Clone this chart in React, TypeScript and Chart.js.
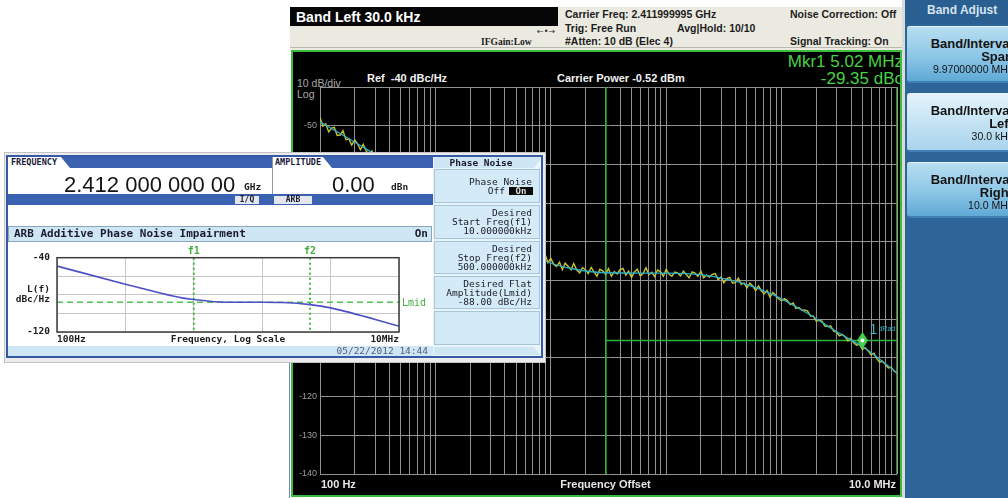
import React, { useEffect, useRef } from 'react';
import { Chart, registerables } from 'chart.js';

Chart.register(...registerables);

// ---------------- data ----------------
const SANS = '"Liberation Sans", Arial, sans-serif';
const MONO = '"DejaVu Sans Mono", monospace';

// Analyzer (main) chart
const X_MIN_HZ = 100;
const X_MAX_HZ = 10000000;
const Y_MIN_DB = -140;
const Y_MAX_DB = -40;
const Y_STEP_DB = 10;
const DECADES = [100, 1000, 10000, 100000, 1000000];
const GRID_MULTS = [1, 2, 3, 4, 5, 6, 7, 8, 9];
const SAMPLE_STEPS = [
  1, 1.06, 1.12, 1.19, 1.26, 1.33, 1.41, 1.5, 1.58, 1.68, 1.78, 1.88, 2, 2.11, 2.24, 2.37, 2.51, 2.66, 2.82, 2.99,
  3.16, 3.35, 3.55, 3.76, 3.98, 4.22, 4.47, 4.73, 5.01, 5.31, 5.62, 5.96, 6.31, 6.68, 7.08, 7.5, 7.94, 8.41, 8.91, 9.44,
];
// measured (noisy, yellow) trace in dBc/Hz, one value per sample frequency (40 per decade + end point)
const TRACE_DB = [
  // 100 Hz decade
  -47.9, -50.1, -49.5, -51.6, -50.6, -50.4, -52.5, -52.4, -51.3, -53.6, -53.4, -55.0, -53.7, -54.6, -56.2, -54.8, -56.5, -57.4, -56.5, -58.7,
  -57.2, -58.3, -59.5, -58.2, -60.2, -61.3, -60.2, -61.1, -62.4, -61.2, -62.7, -64.2, -62.7, -63.5, -64.8, -63.7, -66.1, -65.4, -66.4, -65.8,
  // 1 kHz decade
  -67.2, -66.2, -68.4, -68.3, -69.8, -68.6, -69.4, -71.1, -69.6, -71.4, -72.2, -71.4, -73.5, -72.1, -73.1, -74.4, -73.0, -75.1, -76.1, -75.1,
  -75.9, -77.3, -76.0, -77.6, -79.0, -77.6, -78.3, -79.7, -78.5, -81.0, -80.2, -81.3, -80.6, -80.8, -82.9, -82.4, -84.4, -83.5, -83.2, -85.4,
  // 10 kHz decade
  -84.3, -85.8, -86.4, -85.3, -87.2, -85.5, -86.3, -87.2, -85.6, -87.3, -88.0, -86.7, -87.2, -88.2, -86.6, -87.8, -88.9, -87.1, -87.5, -88.4,
  -86.9, -88.9, -87.7, -88.3, -87.2, -86.9, -88.6, -87.6, -89.2, -87.8, -87.1, -88.8, -88.2, -86.7, -88.5, -87.9, -89.0, -87.3, -87.7, -88.9,
  // 100 kHz decade
  -87.1, -88.4, -88.9, -87.8, -88.1, -88.8, -87.6, -88.5, -89.3, -87.8, -88.1, -88.9, -87.6, -89.3, -88.6, -89.1, -88.4, -88.2, -89.8, -89.1,
  -90.6, -89.5, -89.2, -90.7, -90.5, -89.4, -91.0, -90.7, -91.9, -90.7, -91.4, -92.6, -91.4, -92.7, -93.4, -92.6, -94.3, -93.1, -93.8, -94.8,
  // 1 MHz decade
  -95.2, -94.7, -95.2, -96.2, -95.8, -97.2, -97.0, -97.7, -97.6, -97.9, -99.2, -99.2, -100.5, -100.3, -100.5, -101.8, -101.9, -101.7, -103.1, -103.3,
  -104.3, -103.9, -104.5, -105.6, -105.0, -106.1, -106.7, -106.5, -107.8, -107.4, -108.2, -109.2, -108.8, -110.2, -111.1, -110.9, -111.7, -112.6, -112.4, -113.4,
  // 10 MHz
  -113.9,
];
// smoothed (cyan) trace
const SMOOTH_FREQ = [100, 250, 1000, 3000, 8500, 15000, 30000, 100000, 200000, 300000, 450000, 850000, 1660000, 3220000, 5100000, 10000000];
const SMOOTH_DB = [-49, -56, -67.2, -76.2, -84.7, -86.9, -88, -88.1, -88.5, -89.4, -90.6, -93.7, -98.4, -103.8, -107.2, -113.9];
const BAND_LEFT_HZ = 30000;
const BAND_RIGHT_HZ = 10000000;
const BAND_LEVEL_DB = -105.5;
const MARKER_HZ = 5020000;
const MAIN_X_LABELS = ['100 Hz', 'Frequency Offset', '10.0 MHz'];

// Signal generator (inset) chart
const INSET_Y_MIN = -120;
const INSET_Y_MAX = -40;
const INSET_DECADES = [100, 1000, 10000, 100000, 1000000, 10000000];
const INSET_X_LABELS = ['100Hz', '', '', '', '', '10MHz'];
const INSET_FREQ = [100, 1000, 3000, 7000, 10000, 20000, 50000, 100000, 200000, 500000, 1000000, 10000000];
const INSET_DB = [-49, -68.5, -77.5, -83.5, -85, -87.4, -88, -88, -88.3, -90.5, -94, -113.6];
const F1_HZ = 10000;
const F2_HZ = 500000;
const LMID_DB = -88;

// derived tables
const TRACE_FREQ = DECADES.flatMap((d) => SAMPLE_STEPS.map((m) => d * m)).concat([X_MAX_HZ]);
const GRID_FREQS = DECADES.flatMap((d) => GRID_MULTS.map((m) => d * m)).concat([X_MAX_HZ]);

// ---------------- helpers ----------------
type TxtProps = {
  x: number;
  y: number;
  s: string;
  size: number;
  color?: string;
  bold?: boolean;
  font?: string;
  align?: 'left' | 'right' | 'center';
  extra?: React.CSSProperties;
};

function Txt({ x, y, s, size, color = '#111', bold = false, font = SANS, align = 'left', extra }: TxtProps) {
  const h = Math.round(size * 1.3);
  const st: React.CSSProperties = {
    position: 'absolute',
    top: y - h / 2,
    height: h,
    lineHeight: `${h}px`,
    fontSize: size,
    fontFamily: font,
    fontWeight: bold ? 700 : 400,
    color,
    whiteSpace: 'pre',
    ...extra,
  };
  if (align === 'left') {
    st.left = x;
  } else if (align === 'right') {
    st.left = x - 500;
    st.width = 500;
    st.textAlign = 'right';
  } else {
    st.left = x - 250;
    st.width = 500;
    st.textAlign = 'center';
  }
  return <div style={st}>{s}</div>;
}

function Box({ l, t, w, h, style }: { l: number; t: number; w: number; h: number; style?: React.CSSProperties }) {
  return <div style={{ position: 'absolute', left: l, top: t, width: w, height: h, boxSizing: 'border-box', ...style }} />;
}

function makeMarkerImage(): HTMLCanvasElement {
  const c = document.createElement('canvas');
  c.width = 11;
  c.height = 17;
  const g = c.getContext('2d')!;
  g.fillStyle = '#41d04a';
  g.beginPath();
  g.moveTo(5.5, 0);
  g.lineTo(11, 8.5);
  g.lineTo(5.5, 17);
  g.lineTo(0, 8.5);
  g.closePath();
  g.fill();
  g.fillStyle = '#ffffff';
  g.beginPath();
  g.arc(5.5, 8.5, 2, 0, Math.PI * 2);
  g.fill();
  return c;
}

// ---------------- main analyzer chart ----------------
function MainChart() {
  const ref = useRef<HTMLCanvasElement>(null);
  useEffect(() => {
    const marker = makeMarkerImage();
    const green = '#2fb43a';
    const chart = new Chart(ref.current!, {
      type: 'line',
      data: {
        datasets: [
          {
            label: 'marker',
            data: [{ x: MARKER_HZ, y: BAND_LEVEL_DB }],
            pointStyle: marker as any,
            pointRadius: 8,
            showLine: false,
            order: 0,
          },
          {
            label: 'smoothed',
            data: SMOOTH_FREQ.map((f, i) => ({ x: f, y: SMOOTH_DB[i] })),
            borderColor: '#2aaec8',
            borderWidth: 1.3,
            pointRadius: 0,
            cubicInterpolationMode: 'monotone',
            order: 1,
          },
          {
            label: 'trace',
            data: TRACE_FREQ.map((f, i) => ({ x: f, y: TRACE_DB[i] })),
            borderColor: '#c9c232',
            borderWidth: 1.4,
            pointRadius: 0,
            order: 2,
          },
          {
            label: 'band left',
            data: [{ x: BAND_LEFT_HZ, y: Y_MAX_DB }, { x: BAND_LEFT_HZ, y: Y_MIN_DB }],
            borderColor: green,
            borderWidth: 1.6,
            pointRadius: 0,
            order: 3,
          },
          {
            label: 'band right',
            data: [{ x: BAND_RIGHT_HZ, y: Y_MAX_DB }, { x: BAND_RIGHT_HZ, y: Y_MIN_DB }],
            borderColor: green,
            borderWidth: 1.6,
            pointRadius: 0,
            order: 3,
          },
          {
            label: 'band level',
            data: [{ x: BAND_LEFT_HZ, y: BAND_LEVEL_DB }, { x: BAND_RIGHT_HZ, y: BAND_LEVEL_DB }],
            borderColor: green,
            borderWidth: 1.3,
            pointRadius: 0,
            order: 3,
          },
        ],
      },
      options: {
        animation: false,
        responsive: false,
        devicePixelRatio: 1,
        events: [],
        layout: { autoPadding: false, padding: { left: 0, right: 3, top: 34, bottom: 21 } },
        plugins: { legend: { display: false }, tooltip: { enabled: false }, title: { display: false } },
        scales: {
          x: {
            type: 'logarithmic',
            min: X_MIN_HZ,
            max: X_MAX_HZ,
            afterBuildTicks: (s: any) => {
              s.ticks = GRID_FREQS.map((v) => ({ value: v }));
            },
            afterFit: (s: any) => {
              s.height = 0;
            },
            ticks: { display: false, autoSkip: false },
            grid: { color: '#929292', lineWidth: 1, drawTicks: false },
            border: { display: false },
          },
          y: {
            type: 'linear',
            min: Y_MIN_DB,
            max: Y_MAX_DB,
            afterFit: (s: any) => {
              s.width = 27;
            },
            ticks: {
              stepSize: Y_STEP_DB,
              padding: 3,
              color: '#9e9e9e',
              font: { family: SANS, size: 9 },
              callback: (v: any) => (v === Y_MAX_DB ? '' : String(v)),
            },
            grid: { color: '#929292', lineWidth: 1, drawTicks: false },
            border: { display: false },
          },
        },
      },
      plugins: [
        {
          id: 'mainDecor',
          afterDraw(c: any) {
            const { ctx, chartArea: a, scales } = c;
            ctx.save();
            ctx.font = `bold 11px ${SANS}`;
            ctx.fillStyle = '#e6e6e6';
            ctx.textBaseline = 'middle';
            const y = a.bottom + 11;
            ctx.textAlign = 'left';
            ctx.fillText(MAIN_X_LABELS[0], a.left + 1, y);
            ctx.textAlign = 'center';
            ctx.fillText(MAIN_X_LABELS[1], (a.left + a.right) / 2 - 3, y);
            ctx.textAlign = 'right';
            ctx.fillText(MAIN_X_LABELS[2], a.right - 1, y);
            const mx = scales.x.getPixelForValue(MARKER_HZ);
            const my = scales.y.getPixelForValue(BAND_LEVEL_DB);
            ctx.fillStyle = '#2fb8c8';
            ctx.textAlign = 'left';
            ctx.font = `14px ${SANS}`;
            ctx.fillText('1', mx + 7, my - 10);
            ctx.font = `7px ${SANS}`;
            ctx.fillText('dRad', mx + 16, my - 11);
            ctx.restore();
          },
        },
      ],
    } as any);
    return () => chart.destroy();
  }, []);
  return (
    <canvas
      ref={ref}
      width={607}
      height={442}
      style={{ position: 'absolute', left: 293, top: 53, width: 607, height: 442 }}
    />
  );
}

// ---------------- inset (signal generator) chart ----------------
function InsetChart() {
  const ref = useRef<HTMLCanvasElement>(null);
  useEffect(() => {
    const green = '#45b845';
    const chart = new Chart(ref.current!, {
      type: 'line',
      data: {
        datasets: [
          {
            label: 'L(f)',
            data: INSET_FREQ.map((f, i) => ({ x: f, y: INSET_DB[i] })),
            borderColor: '#4c50c4',
            borderWidth: 1.6,
            pointRadius: 0,
            cubicInterpolationMode: 'monotone',
            order: 0,
          },
          {
            label: 'f1',
            data: [{ x: F1_HZ, y: INSET_Y_MAX }, { x: F1_HZ, y: INSET_Y_MIN }],
            borderColor: green,
            borderWidth: 2,
            borderDash: [2, 3],
            pointRadius: 0,
            order: 1,
          },
          {
            label: 'f2',
            data: [{ x: F2_HZ, y: INSET_Y_MAX }, { x: F2_HZ, y: INSET_Y_MIN }],
            borderColor: green,
            borderWidth: 2,
            borderDash: [2, 3],
            pointRadius: 0,
            order: 1,
          },
          {
            label: 'Lmid',
            data: [{ x: INSET_DECADES[0], y: LMID_DB }, { x: INSET_DECADES[INSET_DECADES.length - 1], y: LMID_DB }],
            borderColor: '#52c052',
            borderWidth: 1.5,
            borderDash: [6, 4],
            pointRadius: 0,
            order: 2,
          },
        ],
      },
      options: {
        animation: false,
        responsive: false,
        devicePixelRatio: 1,
        events: [],
        layout: { autoPadding: false, padding: { left: 0, right: 33, top: 12, bottom: 0 } },
        plugins: { legend: { display: false }, tooltip: { enabled: false }, title: { display: false } },
        scales: {
          x: {
            type: 'logarithmic',
            min: INSET_DECADES[0],
            max: INSET_DECADES[INSET_DECADES.length - 1],
            afterBuildTicks: (s: any) => {
              s.ticks = INSET_DECADES.map((v) => ({ value: v }));
            },
            afterFit: (s: any) => {
              s.height = 14;
            },
            ticks: {
              autoSkip: false,
              maxRotation: 0,
              align: 'inner',
              padding: 2,
              color: '#1c1c1c',
              font: { family: MONO, size: 9.5, weight: 'bold' },
              callback: (_v: any, i: number) => INSET_X_LABELS[i] ?? '',
            },
            grid: { color: '#c6c6c6', lineWidth: 1, drawTicks: false },
            border: { display: false },
          },
          y: {
            type: 'linear',
            min: INSET_Y_MIN,
            max: INSET_Y_MAX,
            afterFit: (s: any) => {
              s.width = 49;
            },
            ticks: {
              stepSize: 10,
              padding: 7,
              color: '#1c1c1c',
              font: { family: MONO, size: 9.5, weight: 'bold' },
              callback: (v: any) => (v === INSET_Y_MAX || v === INSET_Y_MIN ? String(v) : ''),
            },
            grid: { color: '#c6c6c6', lineWidth: 1, drawTicks: false },
            border: { display: false },
          },
        },
      },
      plugins: [
        {
          id: 'insetDecor',
          afterDraw(c: any) {
            const { ctx, chartArea: a, scales } = c;
            ctx.save();
            ctx.strokeStyle = '#3c3c3c';
            ctx.lineWidth = 1.5;
            ctx.strokeRect(a.left, a.top, a.right - a.left, a.bottom - a.top);
            ctx.font = `bold 10px ${MONO}`;
            ctx.fillStyle = '#3fae3f';
            ctx.textBaseline = 'middle';
            ctx.textAlign = 'center';
            ctx.fillText('f1', scales.x.getPixelForValue(F1_HZ), a.top - 6);
            ctx.fillText('f2', scales.x.getPixelForValue(F2_HZ), a.top - 6);
            ctx.textAlign = 'left';
            ctx.font = `10px ${MONO}`;
            ctx.fillText('Lmid', a.right + 3, scales.y.getPixelForValue(LMID_DB) + 1);
            ctx.fillStyle = '#1c1c1c';
            ctx.font = `bold 9.5px ${MONO}`;
            ctx.textAlign = 'right';
            const cy = (a.top + a.bottom) / 2;
            ctx.fillText('L(f)', a.left - 7, cy - 5);
            ctx.fillText('dBc/Hz', a.left - 7, cy + 5);
            ctx.textAlign = 'center';
            ctx.fillText('Frequency, Log Scale', (a.left + a.right) / 2, a.bottom + 8);
            ctx.restore();
          },
        },
      ],
    } as any);
    return () => chart.destroy();
  }, []);
  return (
    <canvas
      ref={ref}
      width={424}
      height={101}
      style={{ position: 'absolute', left: 8, top: 245, width: 424, height: 101 }}
    />
  );
}

// ---------------- composition ----------------
function Softkey({ t, h, lines, selected }: { t: number; h: number; lines: string[]; selected?: boolean }) {
  const bg = selected
    ? 'linear-gradient(#e4f3fb, #bfe0f2 60%, #a9d3ec)'
    : 'linear-gradient(#b9def1, #8cc6e6 55%, #5fa9d6)';
  return (
    <>
      <Box l={907} t={t} w={120} h={h} style={{ background: bg, borderRadius: 3, borderTop: '1px solid #e8f4fb', borderBottom: '2px solid #3f7fb4' }} />
      <Txt x={1013} y={t + 17} s={lines[0]} size={13} bold align="right" color="#141414" />
      <Txt x={1013} y={t + 30} s={lines[1]} size={13} bold align="right" color="#141414" />
      <Txt x={1013} y={t + 43} s={lines[2]} size={10.5} align="right" color="#141414" />
    </>
  );
}

function SgKey({ t, h }: { t: number; h: number }) {
  return <Box l={434} t={t} w={106} h={h} style={{ background: '#d4eaf7', border: '1px solid #a6c6dc' }} />;
}

export default function App() {
  const hdr = '#1d1d1d';
  return (
    <div style={{ position: 'fixed', left: 0, top: 0, width: 1008, height: 498, overflow: 'hidden', background: '#ffffff' }}>
      {/* ---- analyzer screen ---- */}
      <Box l={290} t={7} w={612} h={43} style={{ background: '#ebeae0' }} />
      <Box l={290} t={47} w={612} h={1} style={{ background: '#b9b9b0' }} />
      <Box l={290} t={7} w={268} h={19} style={{ background: '#060606' }} />
      <Txt x={296} y={16.5} s="Band Left 30.0 kHz" size={14} bold color="#ffffff" />
      <Txt x={565} y={14} s="Carrier Freq: 2.411999995 GHz" size={10.5} bold color={hdr} />
      <Txt x={565} y={28} s="Trig: Free Run" size={10.5} bold color={hdr} />
      <Txt x={677} y={28} s="Avg|Hold: 10/10" size={10.5} bold color={hdr} />
      <Txt x={565} y={41} s="#Atten: 10 dB (Elec 4)" size={10.5} bold color={hdr} />
      <Txt x={481} y={42} s="IFGain:Low" size={9.5} bold font='"Liberation Serif", serif' color={hdr} />
      <Txt x={537} y={32} s="←•→" size={8} font='"DejaVu Sans", sans-serif' color="#333" />
      <Txt x={790} y={14} s="Noise Correction: Off" size={10.5} bold color={hdr} />
      <Txt x={790} y={41} s="Signal Tracking: On" size={10.5} bold color={hdr} />

      <Box l={291} t={50} w={611} h={447} style={{ background: '#000', border: '2px solid #3cbc3c' }} />
      <Box l={289} t={362} w={1} h={136} style={{ background: '#6f8cbc' }} />
      <Box l={902} t={0} w={3} h={498} style={{ background: '#d9ddd9' }} />

      <div style={{ position: 'absolute', left: 293, top: 52, width: 607, height: 443, overflow: 'hidden' }}>
        <Txt x={903 - 293} y={62 - 52} s="Mkr1 5.02 MHz" size={17} color="#46d246" align="right" />
        <Txt x={903 - 293} y={79 - 52} s="-29.35 dBc" size={17} color="#46d246" align="right" />
        <Txt x={297 - 293} y={83 - 52} s="10 dB/div" size={10.5} color="#ababab" />
        <Txt x={297 - 293} y={94 - 52} s="Log" size={10.5} color="#ababab" />
        <Txt x={367 - 293} y={78 - 52} s={'Ref\u00a0\u00a0-40 dBc/Hz'} size={11} bold color="#f2f2f2" />
        <Txt x={557 - 293} y={78 - 52} s="Carrier Power -0.52 dBm" size={11} bold color="#f2f2f2" />
      </div>
      <MainChart />

      {/* ---- right softkey panel ---- */}
      <Box l={905} t={0} w={103} h={498} style={{ background: '#2e6598' }} />
      <Box l={905} t={0} w={103} h={24} style={{ background: '#2a5f92' }} />
      <Txt x={927} y={10} s="Band Adjust" size={12} bold color="#d6e3f0" />
      <Softkey t={26} h={57} lines={['Band/Interval', 'Span', '9.97000000 MHz']} />
      <Softkey t={93} h={59} lines={['Band/Interval', 'Left', '30.0 kHz']} selected />
      <Softkey t={162} h={56} lines={['Band/Interval', 'Right', '10.0 MHz']} />

      {/* ---- signal generator inset ---- */}
      <Box l={4} t={152} w={542} h={211} style={{ background: '#ececec', border: '1px solid #c4c4c4' }} />
      <Box l={6} t={155} w={537} h={203} style={{ background: '#ffffff', border: '2px solid #3559a5' }} />
      <Box l={8} t={157} w={425} h={11} style={{ background: '#3a62b0' }} />
      <Box l={8} t={157} w={62} h={11} style={{ background: '#ffffff', clipPath: 'polygon(0 0, 53px 0, 62px 100%, 0 100%)' }} />
      <Txt x={11} y={162.5} s="FREQUENCY" size={8.5} bold font={MONO} color="#1a1a3a" />
      <Box l={272} t={157} w={60} h={11} style={{ background: '#ffffff', clipPath: 'polygon(0 0, 51px 0, 60px 100%, 0 100%)' }} />
      <Txt x={275} y={162.5} s="AMPLITUDE" size={8.5} bold font={MONO} color="#1a1a3a" />
      <Box l={272} t={157} w={1} h={37} style={{ background: '#8e9aa8' }} />
      <Txt x={64} y={184} s="2.412 000 000 00" size={22} color="#141414" />
      <Txt x={244} y={187} s="GHz" size={9.5} bold font={MONO} color="#1a1a1a" />
      <Txt x={332} y={184} s="0.00" size={22} color="#141414" />
      <Txt x={391} y={187} s="dBn" size={9.5} bold font={MONO} color="#1a1a1a" />
      <Box l={8} t={194} w={425} h={11} style={{ background: '#3a62b0' }} />
      <Box l={235} t={196} w={24} h={8} style={{ background: '#e2e6ee' }} />
      <Txt x={247} y={200} s="I/Q" size={8} bold font={MONO} color="#1a1a2a" align="center" />
      <Box l={274} t={196} w={38} h={8} style={{ background: '#e2e6ee' }} />
      <Txt x={293} y={200} s="ARB" size={8} bold font={MONO} color="#1a1a2a" align="center" />
      <Box l={8} t={226} w={424} h={16} style={{ background: '#cfe6f5', border: '1px solid #8aa6bd' }} />
      <Txt x={14} y={234} s="ARB Additive Phase Noise Impairment" size={11} bold font={MONO} color="#1c1c2c" />
      <Txt x={428} y={234} s="On" size={11} bold font={MONO} color="#1c1c2c" align="right" />
      <InsetChart />
      <Box l={8} t={346} w={425} h={10} style={{ background: '#cfe6f5' }} />
      <Txt x={428} y={351} s="05/22/2012 14:44" size={9.5} font={MONO} color="#4f5f7f" align="right" />
      <Box l={433} t={157} w={108} h={199} style={{ background: '#e8f3fa' }} />
      <Box l={434} t={157} w={106} h={11} style={{ background: '#cfe6f5', clipPath: 'polygon(0 0, 100% 0, 100% 30%, 94% 100%, 0 100%)' }} />
      <Txt x={481} y={162.5} s="Phase Noise" size={9.5} bold font={MONO} color="#1a1a2a" align="center" />
      <SgKey t={169} h={34} />
      <SgKey t={205} h={34} />
      <SgKey t={241} h={33} />
      <SgKey t={276} h={33} />
      <SgKey t={311} h={34} />
      <Box l={434} t={347} w={106} h={8} style={{ background: '#cfe6f5', clipPath: 'polygon(0 0, 94% 0, 100% 100%, 0 100%)' }} />
      <Txt x={532} y={182} s="Phase Noise" size={9.5} font={MONO} color="#1a1a2a" align="right" />
      <Txt x={505} y={191} s="Off" size={9.5} font={MONO} color="#1a1a2a" align="right" />
      <Box l={509} t={187} w={24} h={8} style={{ background: '#0a0a0a' }} />
      <Txt x={521} y={191} s="On" size={9} bold font={MONO} color="#d8d8d8" align="center" />
      <Txt x={532} y={213} s="Desired" size={9.5} font={MONO} color="#1a1a2a" align="right" />
      <Txt x={532} y={222} s="Start Freq(f1)" size={9.5} font={MONO} color="#1a1a2a" align="right" />
      <Txt x={532} y={231} s="10.000000kHz" size={9.5} font={MONO} color="#1a1a2a" align="right" />
      <Txt x={532} y={249} s="Desired" size={9.5} font={MONO} color="#1a1a2a" align="right" />
      <Txt x={532} y={258} s="Stop Freq(f2)" size={9.5} font={MONO} color="#1a1a2a" align="right" />
      <Txt x={532} y={267} s="500.000000kHz" size={9.5} font={MONO} color="#1a1a2a" align="right" />
      <Txt x={532} y={284} s="Desired Flat" size={9.5} font={MONO} color="#1a1a2a" align="right" />
      <Txt x={532} y={293} s="Amplitude(Lmid)" size={9.5} font={MONO} color="#1a1a2a" align="right" />
      <Txt x={532} y={302} s="-88.00 dBc/Hz" size={9.5} font={MONO} color="#1a1a2a" align="right" />
    </div>
  );
}
